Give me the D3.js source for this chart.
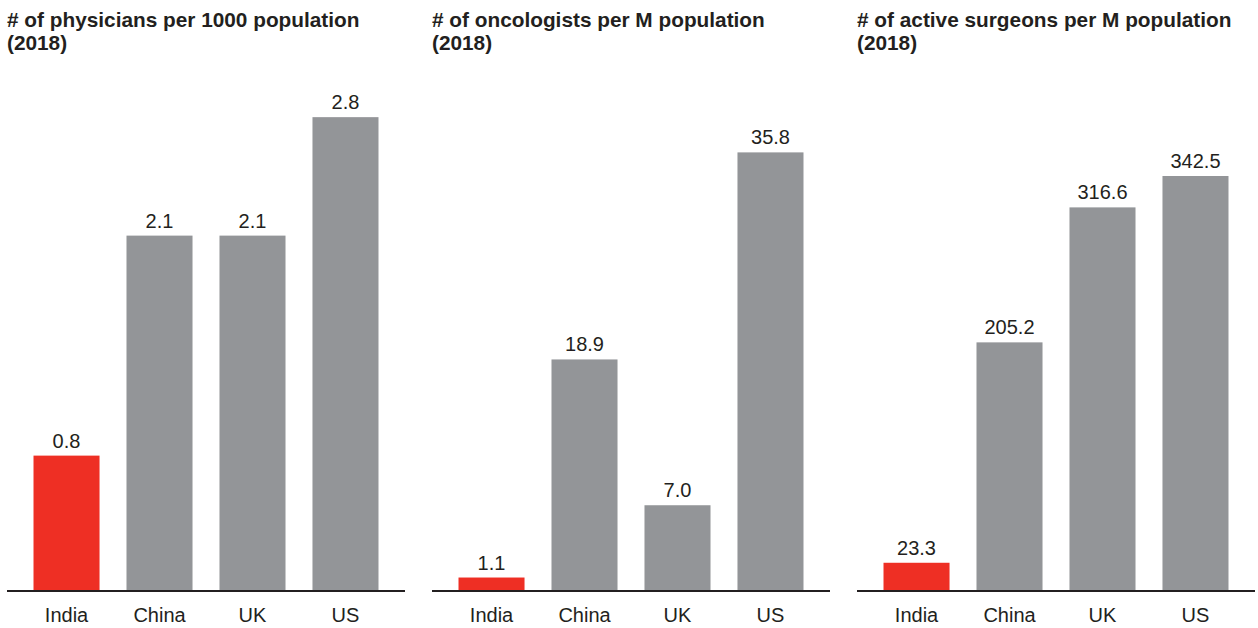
<!DOCTYPE html>
<html>
<head>
<meta charset="utf-8">
<script src="https://cdn.jsdelivr.net/npm/d3@7"></script>
<style>
  html, body { margin: 0; padding: 0; background: #ffffff; }
  svg { display: block; font-family: "Liberation Sans", Arial, sans-serif; }
</style>
</head>
<body>
<svg id="chart" width="1258" height="628"></svg>
<script>
// ---- Data ----
const categories = ["India", "China", "UK", "US"];
const physiciansPer1000 = [0.8, 2.1, 2.1, 2.8];
const oncologistsPerM = [1.1, 18.9, 7.0, 35.8];
const surgeonsPerM = [23.3, 205.2, 316.6, 342.5];
const titles = [
  ["# of physicians per 1000 population", "(2018)"],
  ["# of oncologists per M population", "(2018)"],
  ["# of active surgeons per M population", "(2018)"]
];
const valueLabels = [
  ["0.8", "2.1", "2.1", "2.8"],
  ["1.1", "18.9", "7.0", "35.8"],
  ["23.3", "205.2", "316.6", "342.5"]
];
const domainMax = [2.99, 41.3, 417.6];
const highlightCategory = "India";

// ---- Layout ----
const svg = d3.select("#chart");
const panelX = [7, 432, 857];
const panelW = 398;
const baseY = 591;
const topY = 85;
const red = "#ee2f24";
const grey = "#939598";
const ink = "#231f20";

const seriesList = [physiciansPer1000, oncologistsPerM, surgeonsPerM];

seriesList.forEach((values, i) => {
  const g = svg.append("g").attr("transform", `translate(${panelX[i]},0)`);

  const x = d3.scaleBand()
    .domain(categories)
    .range([0, panelW])
    .paddingInner(0.29)
    .paddingOuter(0.285);

  const y = d3.scaleLinear()
    .domain([0, domainMax[i]])
    .range([baseY, topY]);

  // title
  const t = g.append("text")
    .attr("x", 0)
    .attr("y", 27)
    .attr("font-size", 20.8)
    .attr("font-weight", "bold")
    .attr("fill", ink);
  titles[i].forEach((line, k) => {
    t.append("tspan").attr("x", 0).attr("y", 27 + k * 23).text(line);
  });

  const data = categories.map((c, k) => ({ c, v: values[k], label: valueLabels[i][k] }));

  // bars
  g.selectAll("rect.bar")
    .data(data)
    .join("rect")
    .attr("class", "bar")
    .attr("x", d => x(d.c))
    .attr("width", x.bandwidth())
    .attr("y", d => y(d.v))
    .attr("height", d => baseY - y(d.v))
    .attr("fill", d => d.c === highlightCategory ? red : grey);

  // value labels
  g.selectAll("text.val")
    .data(data)
    .join("text")
    .attr("class", "val")
    .attr("x", d => x(d.c) + x.bandwidth() / 2)
    .attr("y", d => y(d.v) - 8)
    .attr("text-anchor", "middle")
    .attr("font-size", 20)
    .attr("fill", ink)
    .text(d => d.label);

  // axis
  const axis = g.append("g")
    .attr("transform", `translate(0,${baseY})`)
    .call(d3.axisBottom(x).tickSize(0).tickPadding(12));
  axis.select(".domain").attr("stroke", ink).attr("stroke-width", 2).attr("d", `M0,0H${panelW}`);
  axis.selectAll(".tick text")
    .attr("font-size", 20)
    .attr("font-family", "Liberation Sans, Arial, sans-serif")
    .attr("fill", ink)
    .attr("dy", null)
    .attr("y", 31);
});
</script>
</body>
</html>
